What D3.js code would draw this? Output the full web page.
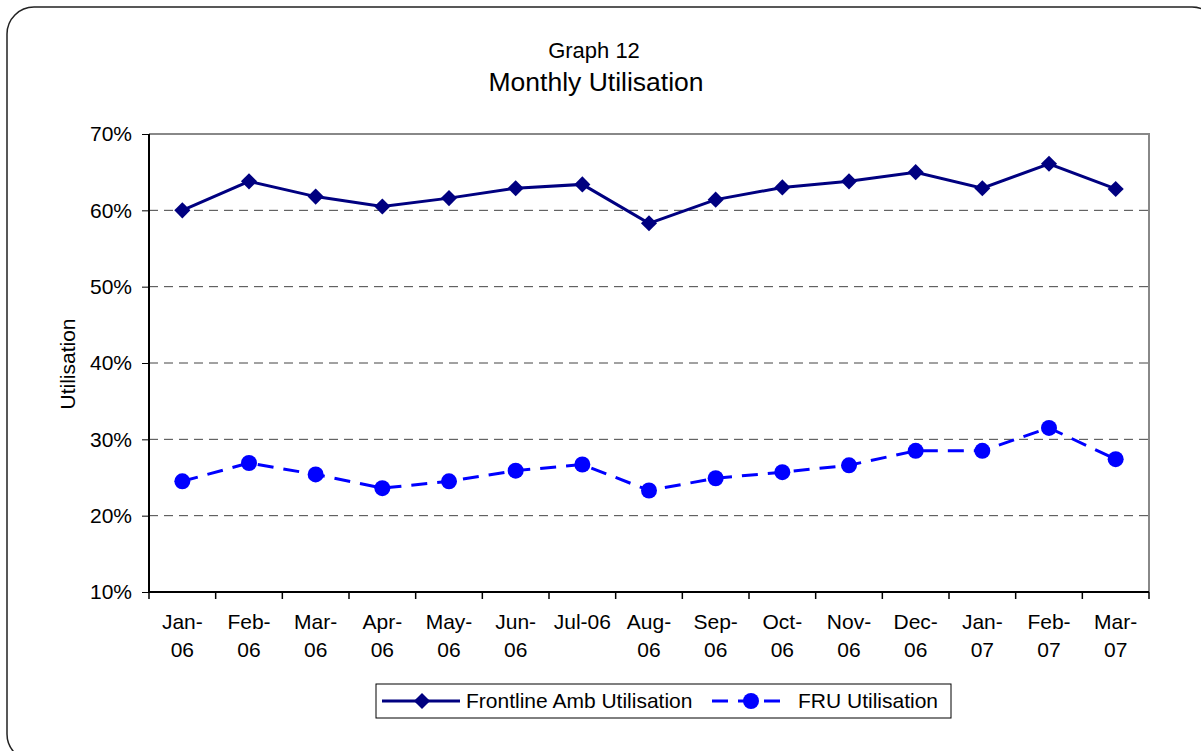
<!DOCTYPE html>
<html>
<head>
<meta charset="utf-8">
<script src="https://cdn.jsdelivr.net/npm/d3@7"></script>
<style>
  body { margin: 0; background: #fff; }
  svg { font-family: "Liberation Sans", Arial, sans-serif; }
</style>
</head>
<body>
<script>
// data
var months = ["Jan-06","Feb-06","Mar-06","Apr-06","May-06","Jun-06","Jul-06","Aug-06",
              "Sep-06","Oct-06","Nov-06","Dec-06","Jan-07","Feb-07","Mar-07"];
var frontline = [60.0, 63.8, 61.8, 60.5, 61.6, 62.9, 63.4, 58.3, 61.4, 63.0, 63.8, 65.0, 62.9, 66.1, 62.8];
var fru = [24.5, 26.9, 25.4, 23.6, 24.5, 25.9, 26.7, 23.3, 24.9, 25.7, 26.6, 28.5, 28.5, 31.5, 27.4];
var yTicks = [10, 20, 30, 40, 50, 60, 70];

var width = 1201, height = 751;
var plot = {left: 149, top: 134, right: 1149, bottom: 592};
var fontSize = "21px";

var svg = d3.select("body").append("svg")
    .attr("width", width)
    .attr("height", height);

// outer rounded frame
svg.append("rect")
    .attr("x", 7).attr("y", 7)
    .attr("width", 1212).attr("height", 754)
    .attr("rx", 27).attr("ry", 27)
    .style("fill", "none")
    .style("stroke", "#222")
    .style("stroke-width", 1.5);

var x = d3.scaleBand()
    .domain(months)
    .range([plot.left, plot.right])
    .padding(0);

var y = d3.scaleLinear()
    .domain([10, 70])
    .range([plot.bottom, plot.top]);

// titles
svg.append("text")
    .attr("x", 594).attr("y", 58)
    .attr("text-anchor", "middle")
    .style("font-size", "22px")
    .text("Graph 12");
svg.append("text")
    .attr("x", 596).attr("y", 91)
    .attr("text-anchor", "middle")
    .style("font-size", "26.5px")
    .text("Monthly Utilisation");

// gridlines
svg.append("g")
  .selectAll("line")
  .data(yTicks.filter(function(d){ return d > 10 && d < 70; }))
  .enter().append("line")
    .attr("x1", plot.left).attr("x2", plot.right)
    .attr("y1", function(d){ return y(d); })
    .attr("y2", function(d){ return y(d); })
    .style("stroke", "#444")
    .style("stroke-width", 1)
    .style("stroke-dasharray", "9,6");

// plot border top/right in grey
svg.append("path")
    .attr("d", "M" + plot.left + "," + plot.top + "H" + plot.right + "V" + plot.bottom)
    .style("fill", "none")
    .style("stroke", "#888")
    .style("stroke-width", 2);

// y axis
var yAxis = svg.append("g")
    .attr("transform", "translate(" + plot.left + ",0)")
    .call(d3.axisLeft(y).tickValues(yTicks).tickSize(7).tickPadding(10)
          .tickFormat(function(d){ return d + "%"; }));
yAxis.selectAll("text").style("font-size", fontSize).style("fill", "#000")
    .style("font-family", "'Liberation Sans', Arial, sans-serif");
yAxis.selectAll("line").style("stroke", "#000");
yAxis.select(".domain").style("stroke", "#000").style("stroke-width", 2)
    .attr("d", "M0," + plot.top + "V" + plot.bottom);

// x axis - ticks at category boundaries
var xAxis = svg.append("g")
    .attr("transform", "translate(0," + plot.bottom + ")");
xAxis.append("line")
    .attr("x1", plot.left).attr("x2", plot.right)
    .style("stroke", "#000").style("stroke-width", 2);
xAxis.selectAll("line.tick")
    .data(months.concat(["end"]))
  .enter().append("line")
    .attr("class", "tick")
    .attr("x1", function(d, i){ return i < months.length ? x(d) : plot.right; })
    .attr("x2", function(d, i){ return i < months.length ? x(d) : plot.right; })
    .attr("y1", 0).attr("y2", 7)
    .style("stroke", "#000").style("stroke-width", 1.5);

var labels = xAxis.selectAll("text")
    .data(months)
  .enter().append("text")
    .attr("x", function(d){ return x(d) + x.bandwidth() / 2; })
    .attr("y", 37)
    .attr("text-anchor", "middle")
    .style("font-size", fontSize);
labels.each(function(d) {
  var t = d3.select(this);
  if (d === "Jul-06") { t.text(d); return; }
  var parts = d.split("-");
  t.append("tspan").attr("x", x(d) + x.bandwidth() / 2).text(parts[0] + "-");
  t.append("tspan").attr("x", x(d) + x.bandwidth() / 2).attr("dy", 28).text(parts[1]);
});

// y axis title
svg.append("text")
    .attr("transform", "translate(75,364) rotate(-90)")
    .attr("text-anchor", "middle")
    .style("font-size", fontSize)
    .text("Utilisation");

var line = d3.line()
    .x(function(d, i){ return x(months[i]) + x.bandwidth() / 2; })
    .y(function(d){ return y(d); });

var diamond = d3.symbol().type(d3.symbolSquare).size(130);

// Frontline series
svg.append("path")
    .datum(frontline)
    .attr("d", line)
    .style("fill", "none")
    .style("stroke", "#000080")
    .style("stroke-width", 3);
svg.append("g").selectAll("path")
    .data(frontline)
  .enter().append("path")
    .attr("d", diamond)
    .attr("transform", function(d, i){
      return "translate(" + (x(months[i]) + x.bandwidth() / 2) + "," + y(d) + ") rotate(45)";
    })
    .style("fill", "#000080");

// FRU series
svg.append("path")
    .datum(fru)
    .attr("d", line)
    .style("fill", "none")
    .style("stroke", "#0000ff")
    .style("stroke-width", 3)
    .style("stroke-dasharray", "16,10");
svg.append("g").selectAll("circle")
    .data(fru)
  .enter().append("circle")
    .attr("cx", function(d, i){ return x(months[i]) + x.bandwidth() / 2; })
    .attr("cy", function(d){ return y(d); })
    .attr("r", 8)
    .style("fill", "#0000ff");

// legend
var legend = svg.append("g").attr("transform", "translate(376,684)");
legend.append("rect")
    .attr("width", 575).attr("height", 34)
    .style("fill", "#fff").style("stroke", "#000").style("stroke-width", 1);
legend.append("line")
    .attr("x1", 6).attr("x2", 84).attr("y1", 17).attr("y2", 17)
    .style("stroke", "#000080").style("stroke-width", 3);
legend.append("path")
    .attr("d", diamond)
    .attr("transform", "translate(46,17) rotate(45)")
    .style("fill", "#000080");
legend.append("text")
    .attr("x", 90).attr("y", 24)
    .style("font-size", fontSize)
    .text("Frontline Amb Utilisation");
legend.append("line")
    .attr("x1", 336).attr("x2", 414).attr("y1", 17).attr("y2", 17)
    .style("stroke", "#0000ff").style("stroke-width", 3)
    .style("stroke-dasharray", "16,10");
legend.append("circle")
    .attr("cx", 375).attr("cy", 17).attr("r", 8)
    .style("fill", "#0000ff");
legend.append("text")
    .attr("x", 422).attr("y", 24)
    .style("font-size", fontSize)
    .text("FRU Utilisation");
</script>
</body>
</html>
